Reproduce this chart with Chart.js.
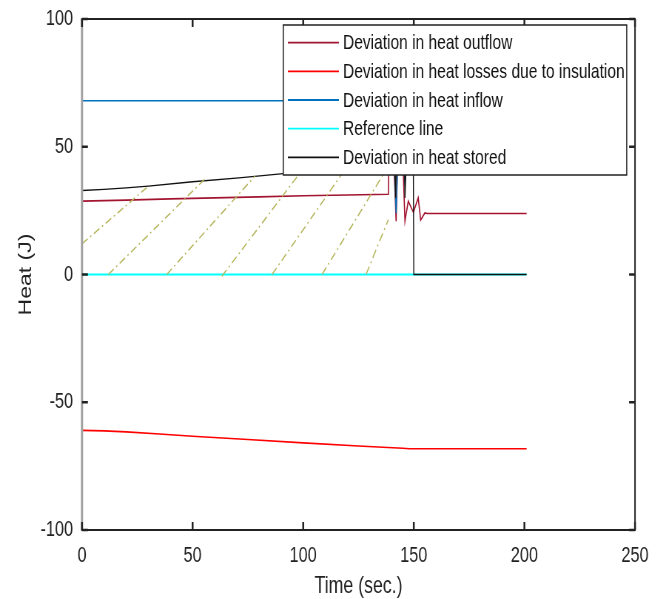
<!DOCTYPE html>
<html>
<head>
<meta charset="utf-8">
<title>Heat deviation</title>
<script src="https://cdn.jsdelivr.net/npm/chart.js@4.4.1/dist/chart.umd.min.js"></script>
<style>
  html, body { margin: 0; padding: 0; background: #fff; overflow: hidden; }
  /* figure is laid out wide, then narrowed horizontally */
  #wrap { width: 899px; height: 599px; transform: scaleX(0.74); transform-origin: 0 0; }
</style>
</head>
<body>
<div id="wrap"><canvas id="chart"></canvas></div>
<script>
'use strict';

const xTicks = [0, 50, 100, 150, 200, 250];
const yTicks = [-100, -50, 0, 50, 100];

// Deviation in heat outflow
const outflowTime = [0, 20, 40, 60, 80, 100, 120, 138.5, 139, 140.5, 142, 143, 144.5, 146, 147.5, 149.8, 152, 153.1, 155, 156, 201];
const outflowHeat = [28.7, 29.1, 29.6, 30.0, 30.4, 30.8, 31.1, 31.4, 60, 55, 20.9, 55, 58, 20.9, 28.7, 24.3, 30.0, 21.3, 24.1, 23.9, 23.9];

// Deviation in heat losses due to insulation
const lossesTime = [0, 10, 20, 35, 50, 75, 100, 125, 145, 148, 201];
const lossesHeat = [-61.0, -61.2, -61.6, -62.4, -63.3, -64.6, -65.9, -67.1, -68.0, -68.2, -68.2];

// Deviation in heat inflow
const inflowTime = [0, 138.5, 139.5, 141, 142, 143, 144.5, 146, 147, 148.5, 150, 151, 152, 153, 201];
const inflowHeat = [68, 68, 62, 48, 24, 52, 58, 35, 50, 40, 45, 42, 40, 68, 68];

// Reference line
const referenceTime = [0, 201];
const referenceHeat = [0, 0];

// Deviation in heat stored
const storedTime = [0, 10, 20, 30, 50, 71, 91, 110, 125, 138.5, 139, 140.5, 141.8, 142.5, 144, 145.5, 146, 147, 148.5, 149.8, 150, 201];
const storedHeat = [32.9, 33.3, 33.9, 34.6, 36.3, 37.8, 39.5, 40.7, 41.7, 42.5, 70, 65, 30, 62, 66, 60, 30, 55, 48, 42, 0, 0];

// dash-dot hatch strokes between the zero line and the stored curve
const hatchStartTime = [0, 11.9, 38.3, 63.2, 85.9, 108.5, 128.4];
const hatchStartHeat = [12.0, 0, 0, -0.7, 0, 0, 0];
const hatchEndTime = [29.8, 55.6, 78.2, 98.6, 118.9, 138.5, 138.5];
const hatchEndHeat = [34.4, 37.4, 38.5, 39.8, 41.1, 42.4, 21.5];

const FONT = '"Liberation Sans", Arial, Helvetica, sans-serif';
const INK = '#222222';

function points(ts, vs) {
    return ts.map((t, i) => ({ x: t, y: vs[i] }));
}

function series(label, ts, vs, color, order, width) {
    return {
        label: label,
        data: points(ts, vs),
        borderColor: color,
        backgroundColor: color,
        borderWidth: width,
        pointRadius: 0,
        tension: 0,
        order: order
    };
}

const datasets = [
    series('Deviation in heat outflow', outflowTime, outflowHeat, '#A2142F', 5, 1.6),
    series('Deviation in heat losses due to insulation', lossesTime, lossesHeat, '#FF0000', 4, 1.6),
    series('Deviation in heat inflow', inflowTime, inflowHeat, '#0072BD', 3, 1.4),
    series('Reference line', referenceTime, referenceHeat, '#00FFFF', 2, 2),
    series('Deviation in heat stored', storedTime, storedHeat, '#111111', 1, 1.4)
];

hatchStartTime.forEach((t, i) => {
    datasets.push({
        label: '',
        data: [{ x: t, y: hatchStartHeat[i] }, { x: hatchEndTime[i], y: hatchEndHeat[i] }],
        borderColor: '#B5B55C',
        borderWidth: 1.5,
        borderDash: [9, 4, 2, 4],
        pointRadius: 0,
        order: 0
    });
});

// axes box, inward ticks and the legend drawn over the lines
const framePlugin = {
    id: 'frame',
    afterDatasetsDraw(chart) {
        const { ctx, chartArea: a, scales: { x, y } } = chart;
        const tick = 8;
        ctx.save();
        ctx.lineCap = 'butt';

        // left spine is lighter than the others
        ctx.strokeStyle = '#A0A0A0';
        ctx.lineWidth = 3;
        ctx.beginPath();
        ctx.moveTo(a.left, a.top);
        ctx.lineTo(a.left, a.bottom);
        ctx.stroke();

        ctx.strokeStyle = INK;
        ctx.lineWidth = 2;
        ctx.beginPath();
        ctx.moveTo(a.left - 1, a.top);
        ctx.lineTo(a.right, a.top);
        ctx.lineTo(a.right, a.bottom);
        ctx.lineTo(a.left - 1, a.bottom);
        ctx.stroke();

        ctx.lineWidth = 2.5;
        ctx.beginPath();
        xTicks.forEach(v => {
            const px = x.getPixelForValue(v);
            ctx.moveTo(px, a.bottom);
            ctx.lineTo(px, a.bottom - tick);
            ctx.moveTo(px, a.top);
            ctx.lineTo(px, a.top + tick);
        });
        yTicks.forEach(v => {
            const py = y.getPixelForValue(v);
            ctx.moveTo(a.left, py);
            ctx.lineTo(a.left + tick, py);
            ctx.moveTo(a.right, py);
            ctx.lineTo(a.right - tick, py);
        });
        ctx.stroke();

        // legend
        const box = { left: 382.8, top: 25, right: 846.9, bottom: 175 };
        ctx.fillStyle = '#FFFFFF';
        ctx.fillRect(box.left, box.top, box.right - box.left, box.bottom - box.top);
        ctx.strokeStyle = INK;
        ctx.lineWidth = 1.5;
        ctx.strokeRect(box.left, box.top, box.right - box.left, box.bottom - box.top);

        ctx.font = '21px ' + FONT;
        ctx.textBaseline = 'middle';
        ctx.textAlign = 'left';
        chart.data.datasets.filter(ds => ds.label).forEach((ds, i) => {
            const rowY = 42.7 + i * 28.65;
            ctx.strokeStyle = ds.borderColor;
            ctx.lineWidth = 1.8;
            ctx.beginPath();
            ctx.moveTo(389, rowY);
            ctx.lineTo(458, rowY);
            ctx.stroke();
            ctx.fillStyle = '#111111';
            ctx.fillText(ds.label, 463.5, rowY + 1);
        });
        ctx.restore();
    }
};

new Chart(document.getElementById('chart'), {
    type: 'line',
    data: { datasets: datasets },
    options: {
        responsive: true,
        maintainAspectRatio: false,
        animation: false,
        events: [],
        layout: { padding: { top: 19, right: 40.9, left: 0, bottom: 0 } },
        plugins: {
            legend: { display: false },
            tooltip: { enabled: false }
        },
        scales: {
            x: {
                type: 'linear',
                min: 0,
                max: 250,
                afterBuildTicks: s => { s.ticks = xTicks.map(v => ({ value: v })); },
                afterFit: s => { s.height = 69; s.paddingLeft = 0; s.paddingRight = 0; },
                grid: { display: false, drawTicks: false },
                border: { display: false },
                ticks: {
                    padding: 13,
                    maxRotation: 0,
                    color: INK,
                    font: { family: FONT, size: 22 }
                },
                title: {
                    display: true,
                    text: 'Time (sec.)',
                    color: INK,
                    font: { family: FONT, size: 24, lineHeight: 1 },
                    padding: { top: 0, bottom: 1 }
                }
            },
            y: {
                type: 'linear',
                min: -100,
                max: 100,
                afterBuildTicks: s => { s.ticks = yTicks.map(v => ({ value: v })); },
                afterFit: s => { s.width = 110.8; s.paddingTop = 0; s.paddingBottom = 0; },
                grid: { display: false, drawTicks: false },
                border: { display: false },
                ticks: {
                    padding: 12,
                    color: INK,
                    font: { family: FONT, size: 22 }
                },
                title: {
                    display: true,
                    text: 'Heat (J)',
                    color: INK,
                    font: { family: FONT, size: 23, lineHeight: 1 },
                    padding: { top: 24, bottom: 0 }
                }
            }
        }
    },
    plugins: [framePlugin]
});
</script>
</body>
</html>
